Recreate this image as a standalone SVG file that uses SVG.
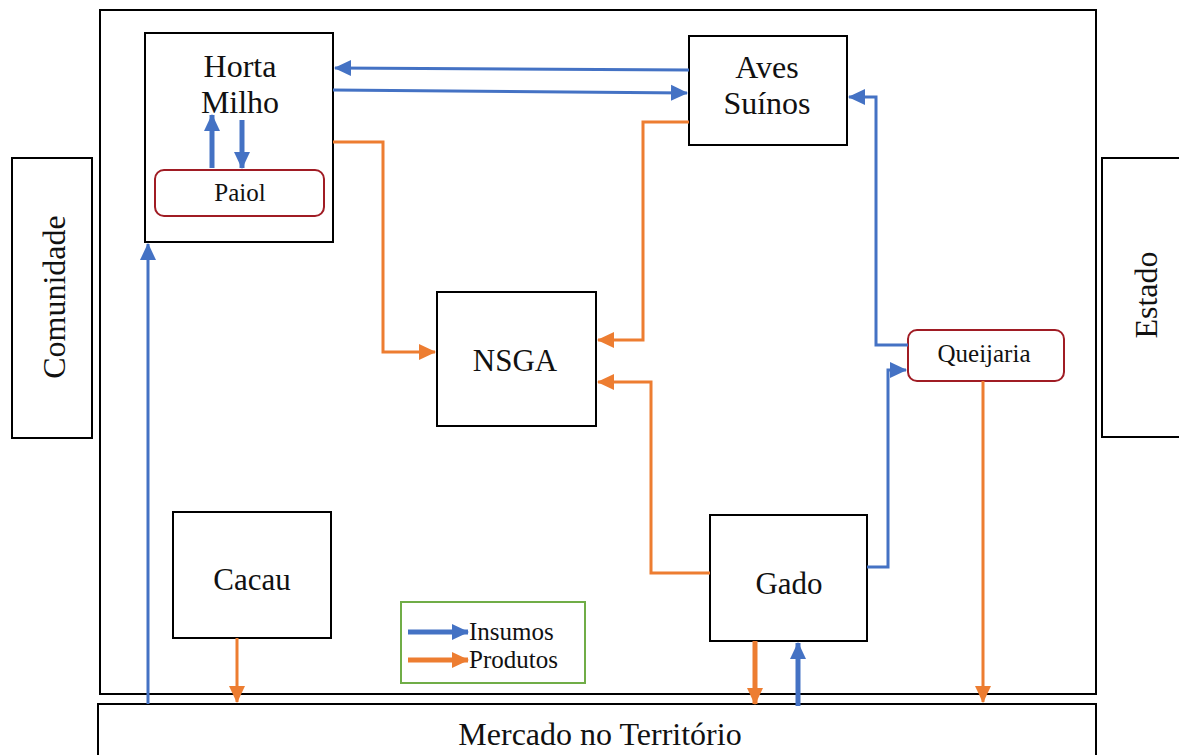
<svg xmlns="http://www.w3.org/2000/svg" width="1179" height="755" viewBox="0 0 1179 755">
<style>
.box{fill:#fff;stroke:#000;stroke-width:2}
text{font-family:'Liberation Serif','Times New Roman','DejaVu Serif',serif;fill:#111;text-anchor:middle}
.b{fill:none;stroke:#4472C4;stroke-width:3}
.o{fill:none;stroke:#ED7D31;stroke-width:3}
.bw{fill:none;stroke:#4472C4;stroke-width:5}
.ow{fill:none;stroke:#ED7D31;stroke-width:5}
.rr{fill:#fff;stroke:#A01C24;stroke-width:2}
</style>
<defs>
<marker id="ab" markerUnits="userSpaceOnUse" markerWidth="18" markerHeight="18" refX="16" refY="9" orient="auto"><path d="M0,1 L17,9 L0,17 Z" fill="#4472C4"/></marker>
<marker id="ao" markerUnits="userSpaceOnUse" markerWidth="18" markerHeight="18" refX="16" refY="9" orient="auto"><path d="M0,1 L17,9 L0,17 Z" fill="#ED7D31"/></marker>
</defs>
<rect width="1179" height="755" fill="#fff"/>
<g id="outer"><rect x="100" y="10" width="996" height="684" class="box"/></g>
<g id="comunidade"><rect x="12" y="158" width="80" height="280" class="box"/><text font-size="32" transform="translate(65,297) rotate(-90)">Comunidade</text></g>
<g id="estado"><rect x="1102" y="158" width="80" height="279" class="box"/><text font-size="32" transform="translate(1157,295) rotate(-90)">Estado</text></g>
<g id="mercado"><rect x="98" y="704" width="998" height="60" class="box"/><text font-size="32" x="600" y="745">Mercado no Território</text></g>
<g id="horta"><rect x="145" y="33" width="188" height="209" class="box"/><text font-size="32" x="240" y="77">Horta</text><text font-size="32" x="240" y="113">Milho</text></g>
<g id="paiol"><rect x="155" y="170" width="169" height="46" rx="9" class="rr"/><text font-size="25" x="240" y="201">Paiol</text></g>
<g id="aves"><rect x="689" y="36" width="158" height="109" class="box"/><text font-size="32" x="767" y="78">Aves</text><text font-size="32" x="767" y="114">Suínos</text></g>
<g id="nsga"><rect x="437" y="292" width="159" height="134" class="box"/><text font-size="31" x="515" y="371">NSGA</text></g>
<g id="cacau"><rect x="173" y="512" width="158" height="126" class="box"/><text font-size="31" x="252" y="590">Cacau</text></g>
<g id="gado"><rect x="710" y="515" width="157" height="126" class="box"/><text font-size="31" x="789" y="594">Gado</text></g>
<g id="queijaria"><rect x="908" y="330" width="156" height="51" rx="9" class="rr"/><text font-size="25" x="984" y="362">Queijaria</text></g>
<g id="legenda"><rect x="401" y="602" width="184" height="81" fill="#fff" stroke="#70AD47" stroke-width="2"/>
<line x1="408" y1="632" x2="468" y2="632" class="bw" marker-end="url(#ab)"/>
<line x1="408" y1="660" x2="468" y2="660" class="ow" marker-end="url(#ao)"/>
<text font-size="25" x="469" y="640" style="text-anchor:start">Insumos</text>
<text font-size="25" x="469" y="668" style="text-anchor:start">Produtos</text></g>
<g id="connectors">
<line x1="212" y1="168" x2="212" y2="115" class="bw" marker-end="url(#ab)"/>
<line x1="242" y1="120" x2="242" y2="168" class="bw" marker-end="url(#ab)"/>
<polyline points="689,70 335,68" class="b" marker-end="url(#ab)"/>
<polyline points="333,90 687,93" class="b" marker-end="url(#ab)"/>
<polyline points="333,142 383,142 383,352 435,352" class="o" marker-end="url(#ao)"/>
<polyline points="689,122 643,122 643,340 598,340" class="o" marker-end="url(#ao)"/>
<polyline points="710,573 651,573 651,382 598,382" class="o" marker-end="url(#ao)"/>
<polyline points="867,567 888,567 888,370 906,370" class="b" marker-end="url(#ab)"/>
<polyline points="908,345 876,345 876,97 849,97" class="b" marker-end="url(#ab)"/>
<polyline points="983,381 983,702" class="o" marker-end="url(#ao)"/>
<polyline points="237,638 237,702" class="o" marker-end="url(#ao)"/>
<polyline points="755,641 755,704" class="ow" marker-end="url(#ao)"/>
<polyline points="798,706 798,643" class="bw" marker-end="url(#ab)"/>
<polyline points="148,704 148,244" class="b" marker-end="url(#ab)"/>
</g>
</svg>
